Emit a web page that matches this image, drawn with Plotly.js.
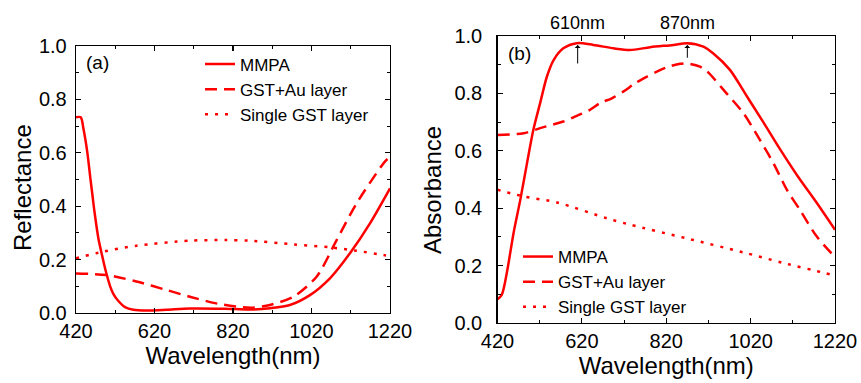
<!DOCTYPE html>
<html>
<head>
<meta charset="utf-8">
<script src="https://cdn.plot.ly/plotly-3.0.1.min.js"></script>
<style>html,body{margin:0;padding:0;background:#fff;}#chart{width:861px;height:383px;}</style>
</head>
<body>
<div id="chart"></div>
<script>
// ---- Data: panel (a) Reflectance ----
const refMmpaWl = [420, 432, 439, 449, 457, 462, 467, 477, 485, 492, 498, 507, 515, 528, 545, 566, 600, 650, 710, 800, 863, 914, 965, 1016, 1067, 1118, 1169, 1220];
const refMmpa   = [0.733, 0.733, 0.69, 0.60, 0.50, 0.44, 0.38, 0.28, 0.225, 0.18, 0.145, 0.10, 0.072, 0.045, 0.022, 0.012, 0.009, 0.012, 0.017, 0.016, 0.013, 0.018, 0.03, 0.067, 0.13, 0.224, 0.336, 0.467];
const refAuWl   = [420, 498, 574, 651, 710, 780, 840, 870, 914, 974, 1033, 1084, 1135, 1207, 1220];
const refAu     = [0.148, 0.142, 0.118, 0.086, 0.061, 0.035, 0.022, 0.02, 0.03, 0.061, 0.136, 0.273, 0.411, 0.567, 0.585];
const refGstWl  = [420, 490, 574, 710, 800, 863, 974, 1067, 1135, 1203, 1220];
const refGst    = [0.205, 0.23, 0.252, 0.271, 0.273, 0.271, 0.257, 0.246, 0.233, 0.217, 0.213];

// ---- Data: panel (b) Absorbance ----
const absMmpaWl = [420, 430, 442, 458, 474, 490, 505, 521, 537, 553, 576, 608, 647, 695, 734, 782, 837, 869, 908, 931, 971, 1011, 1050, 1090, 1130, 1177, 1220];
const absMmpa   = [0.083, 0.098, 0.174, 0.313, 0.429, 0.557, 0.673, 0.766, 0.858, 0.916, 0.957, 0.975, 0.969, 0.957, 0.951, 0.961, 0.969, 0.975, 0.963, 0.94, 0.882, 0.79, 0.70, 0.605, 0.515, 0.418, 0.325];
const absAuWl   = [420, 482, 521, 576, 608, 636, 663, 691, 718, 746, 774, 798, 821, 853, 872, 900, 916, 963, 1003, 1042, 1074, 1106, 1137, 1177, 1220];
const absAu     = [0.655, 0.661, 0.679, 0.702, 0.722, 0.740, 0.766, 0.783, 0.806, 0.835, 0.858, 0.876, 0.891, 0.903, 0.904, 0.893, 0.878, 0.80, 0.731, 0.638, 0.557, 0.464, 0.394, 0.301, 0.23];
const absGstWl  = [420, 482, 561, 679, 733, 868, 1003, 1098, 1196, 1220];
const absGst    = [0.464, 0.441, 0.42, 0.365, 0.343, 0.295, 0.246, 0.209, 0.174, 0.165];

const seriesNames = ["MMPA", "GST+Au layer", "Single GST layer"];
const xTickVals = [420, 620, 820, 1020, 1220];
const yTickVals = [0, 0.2, 0.4, 0.6, 0.8, 1.0];
const peakLabels = ["610nm", "870nm"];
const peakWl = [610, 870];

const RED = "#ff0000";
const FONT = "Liberation Sans, Arial, sans-serif";
const dashes = ["solid", "12px,7px", "3px,7px"];

function tr(x, y, i, xa, ya, leg) {
  return {
    x: x, y: y, type: "scatter", mode: "lines", name: seriesNames[i],
    xaxis: xa, yaxis: ya, legend: leg,
    line: {color: RED, width: 2.5, dash: dashes[i], shape: "spline", smoothing: 0.8},
    hoverinfo: "skip"
  };
}

const data = [
  tr(refMmpaWl, refMmpa, 0, "x", "y", "legend"),
  tr(refAuWl, refAu, 1, "x", "y", "legend"),
  tr(refGstWl, refGst, 2, "x", "y", "legend"),
  tr(absMmpaWl, absMmpa, 0, "x2", "y2", "legend2"),
  tr(absAuWl, absAu, 1, "x2", "y2", "legend2"),
  tr(absGstWl, absGst, 2, "x2", "y2", "legend2")
];

function xax(dom, anchor) {
  return {
    domain: dom, anchor: anchor, range: [420, 1220],
    tickvals: xTickVals, ticks: "inside", ticklen: 5, tickwidth: 1.2, tickcolor: "#000",
    minor: {dtick: 100, tick0: 420, ticks: "inside", ticklen: 3, tickcolor: "#000", tickwidth: 1},
    showline: true, linecolor: "#000", linewidth: 1.3, mirror: "ticks",
    showgrid: false, zeroline: false,
    tickfont: {family: FONT, size: 20, color: "#000"},
    title: {text: "Wavelength(nm)", font: {family: FONT, size: 24, color: "#000"}, standoff: 6},
    automargin: false
  };
}
function yax(dom, anchor, tlStandoff) {
  return {
    domain: dom, anchor: anchor, range: [0, 1],
    tickvals: yTickVals, tickformat: ".1f", ticks: "inside", ticklen: 5, tickwidth: 1.2, tickcolor: "#000",
    minor: {dtick: 0.1, tick0: 0, ticks: "inside", ticklen: 3, tickcolor: "#000", tickwidth: 1},
    showline: true, linecolor: "#000", linewidth: 1.3, mirror: "ticks",
    showgrid: false, zeroline: false,
    ticklabelstandoff: tlStandoff,
    tickfont: {family: FONT, size: 20, color: "#000"},
    automargin: false
  };
}

const annotations = [
  {xref: "x domain", yref: "y domain", x: 0.07, y: 0.94, text: "(a)", showarrow: false,
   xanchor: "center", yanchor: "middle", font: {family: FONT, size: 19, color: "#000"}},
  {xref: "x2 domain", yref: "y2 domain", x: 0.064, y: 0.94, text: "(b)", showarrow: false,
   xanchor: "center", yanchor: "middle", font: {family: FONT, size: 19, color: "#000"}},
  {xref: "paper", yref: "paper", x: 22 / 861, y: (383 - 188) / 383, text: "Reflectance", textangle: -90,
   showarrow: false, xanchor: "center", yanchor: "middle", font: {family: FONT, size: 24, color: "#000"}},
  {xref: "paper", yref: "paper", x: 432 / 861, y: (383 - 190) / 383, text: "Absorbance", textangle: -90,
   showarrow: false, xanchor: "center", yanchor: "middle", font: {family: FONT, size: 24, color: "#000"}}
];
for (let i = 0; i < peakWl.length; i++) {
  annotations.push({xref: "x2", yref: "paper", x: peakWl[i], y: (383 - 23) / 383, text: peakLabels[i],
    showarrow: false, xanchor: "center", yanchor: "middle", font: {family: FONT, size: 18, color: "#000"}});
}
annotations.push({xref: "x2", yref: "y2", x: 610, y: 0.969, axref: "x2", ayref: "y2", ax: 610, ay: 0.899,
  text: "", showarrow: true, arrowhead: 1, arrowsize: 1, arrowwidth: 1, arrowcolor: "#000"});
annotations.push({xref: "x2", yref: "y2", x: 870, y: 0.969, axref: "x2", ayref: "y2", ax: 870, ay: 0.919,
  text: "", showarrow: true, arrowhead: 1, arrowsize: 1, arrowwidth: 1, arrowcolor: "#000"});

const layout = {
  width: 861, height: 383,
  margin: {l: 0, r: 0, t: 0, b: 0},
  paper_bgcolor: "#fff", plot_bgcolor: "#fff",
  font: {family: FONT, color: "#000"},
  xaxis: xax([76 / 861, 390 / 861], "y"),
  yaxis: yax([70 / 383, 337 / 383], "x", 4),
  xaxis2: xax([497.5 / 861, 835 / 861], "y2"),
  yaxis2: yax([60 / 383, 347 / 383], "x2", 10),
  legend: {x: 200 / 861, y: (383 - 46.5) / 383, xanchor: "left", yanchor: "top",
    bgcolor: "rgba(0,0,0,0)", font: {family: FONT, size: 17, color: "#000"}, tracegroupgap: 0},
  legend2: {x: 518 / 861, y: (383 - 239) / 383, xanchor: "left", yanchor: "top",
    bgcolor: "rgba(0,0,0,0)", font: {family: FONT, size: 17, color: "#000"}, tracegroupgap: 0},
  annotations: annotations,
  showlegend: true
};

Plotly.newPlot("chart", data, layout, {displayModeBar: false, staticPlot: true});
</script>
</body>
</html>
